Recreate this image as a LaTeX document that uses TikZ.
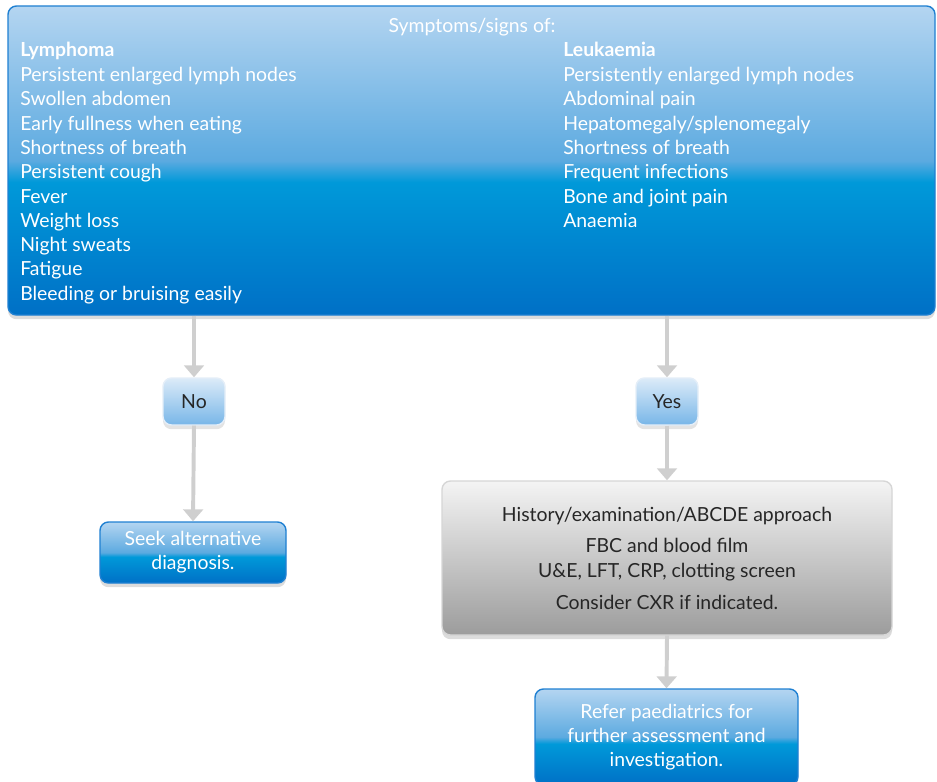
\documentclass[tikz,border=0pt]{standalone}
\usepackage{fontspec}
\setmainfont{Lato}
\usetikzlibrary{arrows.meta,shadows}
\begin{document}
\begin{tikzpicture}[x=0.025cm, y=-0.025cm,
    every node/.style={font=\fontsize{13.8}{17.2}\selectfont},
    bluepanel/.style={draw=bluedge, line width=1pt, rounded corners=6pt,
      shading=gloss, text=white,
      drop shadow={opacity=0.28, shadow xshift=0pt, shadow yshift=-3pt}},
    pill/.style={draw=pilledge, line width=1pt, rounded corners=6pt,
      top color=pilltop, bottom color=pillbot, text=inkdark,
      drop shadow={opacity=0.22, shadow xshift=0pt, shadow yshift=-3pt}},
    greypanel/.style={draw=greyedge, line width=1pt, rounded corners=6pt,
      top color=greytop, bottom color=greybot, text=inkdark, align=center,
      drop shadow={opacity=0.28, shadow xshift=0pt, shadow yshift=-3pt}},
    item/.style={anchor=base west, inner sep=0pt, text=white},
    flow/.style={draw=flowgrey, line width=2.8pt, -{Triangle[width=14pt,length=8.5pt]}},
  ]
  \definecolor{bluedge}{HTML}{1F80D2}
  \definecolor{blutop}{HTML}{B4D5F1}
  \definecolor{bluhalf}{HTML}{5CAAE0}
  \definecolor{blumid}{HTML}{0099D9}
  \definecolor{blubot}{HTML}{0070C6}
  \definecolor{pilledge}{HTML}{E4EEF8}
  \definecolor{pilltop}{HTML}{DCEBF8}
  \definecolor{pillbot}{HTML}{78B6E8}
  \definecolor{greyedge}{HTML}{D6D6D6}
  \definecolor{greytop}{HTML}{F4F4F4}
  \definecolor{greybot}{HTML}{9C9C9C}
  \definecolor{inkdark}{HTML}{262626}
  \definecolor{flowgrey}{HTML}{CFCFCF}
  \pgfdeclareverticalshading{gloss}{100bp}{color(0bp)=(blubot); color(25bp)=(blubot);
    color(46.5bp)=(blumid); color(50bp)=(bluhalf); color(75bp)=(blutop); color(100bp)=(blutop)}
  \def\px{0.025cm}
  \clip (0,0) rectangle (937,781);
  \path[use as bounding box] (0,0) rectangle (937,781);
  \node[bluepanel, minimum width=927*\px, minimum height=309*\px] (signs) at (471.5,160.5) {};
  \node[item, anchor=base] (hdr) at (472,33) {Symptoms/signs of:};
  \node[item] (lyhead) at (20,57) {\bfseries Lymphoma};
  \node[item] (lehead) at (563,57) {\bfseries Leukaemia};
  \foreach \t [count=\i from 0] in {Persistent enlarged lymph nodes, Swollen abdomen,
      Early fullness when eating, Shortness of breath, Persistent cough, Fever,
      Weight loss, Night sweats, Fatigue, Bleeding or bruising easily}
    \node[item] (ly\i) at (20,{81.5+24.3*\i}) {\t};
  \foreach \t [count=\i from 0] in {Persistently enlarged lymph nodes, Abdominal pain,
      Hepatomegaly/splenomegaly, Shortness of breath, Frequent infections,
      Bone and joint pain, Anaemia}
    \node[item] (le\i) at (563,{81.5+24.3*\i}) {\t};
  \node[pill, minimum width=62*\px, minimum height=47*\px] (no) at (194,401.5) {No};
  \node[pill, minimum width=62*\px, minimum height=47*\px] (yes) at (667,401.5) {Yes};
  \node[bluepanel, align=center, minimum width=186*\px, minimum height=61*\px] (seek) at (193,552.5)
    {Seek alternative\\diagnosis.};
  \node[greypanel, minimum width=450*\px, minimum height=154*\px] (exam) at (667,558)
    {History/examination/ABCDE approach\\[5.5pt]FBC and blood film\\U\&E, LFT, CRP, clotting screen\\[5.5pt]Consider CXR if indicated.};
  \node[bluepanel, align=center, minimum width=263*\px, minimum height=96*\px] (refer) at (666.5,737)
    {Refer paediatrics for\\further assessment and\\investigation.};
  \draw[flow] (no.north |- signs.south) -- (no.north);
  \draw[flow] (no.south) -- (seek.north);
  \draw[flow] (yes.north |- signs.south) -- (yes.north);
  \draw[flow] (yes.south) -- (exam.north);
  \draw[flow] (exam.south) -- (refer.north);
\end{tikzpicture}
\end{document}
